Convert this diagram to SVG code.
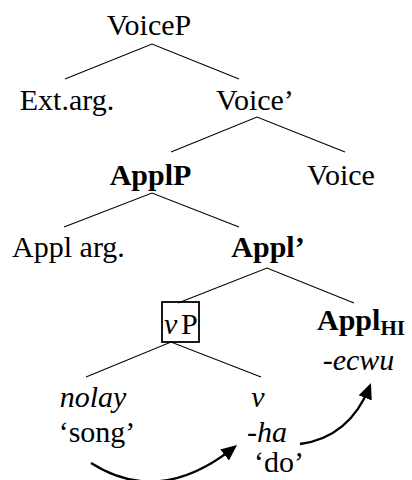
<svg xmlns="http://www.w3.org/2000/svg" width="412" height="480" viewBox="0 0 412 480">
  <style>
    text { font-family: "Liberation Serif", "Times New Roman", "DejaVu Serif", serif; font-size: 30px; fill: #000; text-anchor: middle; }
    .start { text-anchor: start; }
    .b { font-weight: bold; }
    .i { font-style: italic; }
    .sub { font-size: 21px; font-weight: bold; }
    .branch { stroke: #000; stroke-width: 1.1; fill: none; }
    .move { stroke: #000; stroke-width: 2.3; fill: none; marker-end: url(#head); }
    .box { stroke: #000; stroke-width: 1.8; fill: none; }
  </style>
  <defs>
    <marker id="head" markerUnits="userSpaceOnUse" markerWidth="16" markerHeight="14" refX="13" refY="7" orient="auto">
      <path d="M0,0 L16,7 L0,14 z" fill="#000"/>
    </marker>
  </defs>
  <rect width="412" height="480" fill="#fff"/>

  <g id="connectors">
    <!-- tree branches -->
    <path class="branch" d="M65 79 L152 44 L239 79"/>
    <path class="branch" d="M171 152 L257 117 L345 152"/>
    <path class="branch" d="M64 227 L152 193 L239 227"/>
    <path class="branch" d="M178 303 L267 268 L354 303"/>
    <path class="branch" d="M86 377 L171 342 L261 377"/>
    <!-- head movement arrows -->
    <path class="move" d="M91 463 Q160 507 234.7 446.9"/>
    <path class="move" d="M300 444 Q350 437 369.9 385.8"/>
  </g>

  <g id="VoiceP"><text x="149" y="35">VoiceP</text></g>
  <g id="ExtArg"><text x="67" y="110">Ext.arg.</text></g>
  <g id="VoiceBar"><text x="255" y="110">Voice’</text></g>
  <g id="ApplP"><text class="b" x="150.5" y="185">ApplP</text></g>
  <g id="Voice"><text x="341" y="185">Voice</text></g>
  <g id="ApplArg"><text x="68.5" y="257">Appl arg.</text></g>
  <g id="ApplBar"><text class="b" x="268" y="257">Appl’</text></g>
  <g id="vP">
    <rect class="box" x="162" y="302" width="37" height="40"/>
    <text class="start" x="164" y="334"><tspan class="i">v</tspan><tspan x="181">P</tspan></text>
  </g>
  <g id="ApplHI">
    <text class="b start" x="317" y="330">Appl<tspan class="sub" dy="5">HI</tspan></text>
    <text class="i" x="358.5" y="370">-ecwu</text>
  </g>
  <g id="nolay">
    <text class="i" x="93" y="407">nolay</text>
    <text x="97" y="442">‘song’</text>
  </g>
  <g id="v">
    <text class="i" x="258" y="407">v</text>
    <text class="i" x="267" y="442">-ha</text>
    <text x="279" y="472">‘do’</text>
  </g>
</svg>
